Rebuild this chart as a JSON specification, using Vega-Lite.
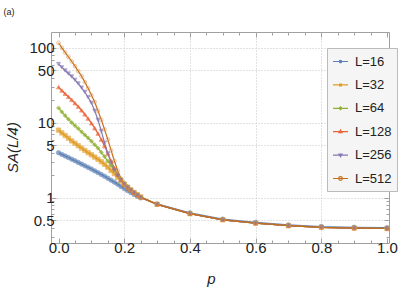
{
"$schema": "https://vega.github.io/schema/vega-lite/v6.json",
"width": 338, "height": 211,
"autosize": {"type": "none"},
"padding": {"left": 51, "top": 32, "right": 10, "bottom": 56},
"config": {
  "view": {"stroke": "#a0a0a0", "strokeWidth": 1},
  "font": "Liberation Sans",
  "axis": {"labelFont": "Liberation Sans", "titleFont": "Liberation Sans", "domain": false, "tickColor": "#a0a0a0", "labelColor": "#222222", "titleColor": "#222222", "labelFontSize": 15, "titleFontSize": 15, "titleFontWeight": "normal", "labelOverlap": false, "labelFlush": false}
},
"data": {"values": [
{"L":"L=16","p":0,"s":4.0},{"L":"L=16","p":0.01,"s":3.8},{"L":"L=16","p":0.02,"s":3.62},{"L":"L=16","p":0.03,"s":3.45},{"L":"L=16","p":0.04,"s":3.28},{"L":"L=16","p":0.05,"s":3.12},{"L":"L=16","p":0.06,"s":2.97},{"L":"L=16","p":0.07,"s":2.82},{"L":"L=16","p":0.08,"s":2.68},{"L":"L=16","p":0.09,"s":2.55},{"L":"L=16","p":0.1,"s":2.42},{"L":"L=16","p":0.11,"s":2.29},{"L":"L=16","p":0.12,"s":2.17},{"L":"L=16","p":0.13,"s":2.05},{"L":"L=16","p":0.14,"s":1.94},{"L":"L=16","p":0.15,"s":1.83},{"L":"L=16","p":0.16,"s":1.72},{"L":"L=16","p":0.17,"s":1.62},{"L":"L=16","p":0.18,"s":1.52},{"L":"L=16","p":0.19,"s":1.42},{"L":"L=16","p":0.2,"s":1.33},{"L":"L=16","p":0.21,"s":1.25},{"L":"L=16","p":0.22,"s":1.18},{"L":"L=16","p":0.23,"s":1.11},{"L":"L=16","p":0.24,"s":1.05},{"L":"L=16","p":0.25,"s":1.0},{"L":"L=16","p":0.3,"s":0.83},{"L":"L=16","p":0.4,"s":0.63},{"L":"L=16","p":0.5,"s":0.52},{"L":"L=16","p":0.6,"s":0.47},{"L":"L=16","p":0.7,"s":0.435},{"L":"L=16","p":0.8,"s":0.415},{"L":"L=16","p":0.9,"s":0.405},{"L":"L=16","p":1.0,"s":0.4},
{"L":"L=32","p":0,"s":8.0},{"L":"L=32","p":0.01,"s":7.35},{"L":"L=32","p":0.02,"s":6.8},{"L":"L=32","p":0.03,"s":6.25},{"L":"L=32","p":0.04,"s":5.75},{"L":"L=32","p":0.05,"s":5.35},{"L":"L=32","p":0.06,"s":4.95},{"L":"L=32","p":0.07,"s":4.6},{"L":"L=32","p":0.08,"s":4.3},{"L":"L=32","p":0.09,"s":4.0},{"L":"L=32","p":0.1,"s":3.75},{"L":"L=32","p":0.11,"s":3.5},{"L":"L=32","p":0.12,"s":3.27},{"L":"L=32","p":0.13,"s":3.03},{"L":"L=32","p":0.14,"s":2.8},{"L":"L=32","p":0.15,"s":2.56},{"L":"L=32","p":0.16,"s":2.32},{"L":"L=32","p":0.17,"s":2.1},{"L":"L=32","p":0.18,"s":1.88},{"L":"L=32","p":0.19,"s":1.68},{"L":"L=32","p":0.2,"s":1.52},{"L":"L=32","p":0.21,"s":1.39},{"L":"L=32","p":0.22,"s":1.28},{"L":"L=32","p":0.23,"s":1.18},{"L":"L=32","p":0.24,"s":1.1},{"L":"L=32","p":0.25,"s":1.03},{"L":"L=32","p":0.3,"s":0.82},{"L":"L=32","p":0.4,"s":0.615},{"L":"L=32","p":0.5,"s":0.51},{"L":"L=32","p":0.6,"s":0.46},{"L":"L=32","p":0.7,"s":0.425},{"L":"L=32","p":0.8,"s":0.405},{"L":"L=32","p":0.9,"s":0.395},{"L":"L=32","p":1.0,"s":0.39},
{"L":"L=64","p":0,"s":15.8},{"L":"L=64","p":0.01,"s":14.0},{"L":"L=64","p":0.02,"s":12.5},{"L":"L=64","p":0.03,"s":11.2},{"L":"L=64","p":0.04,"s":10.1},{"L":"L=64","p":0.05,"s":9.2},{"L":"L=64","p":0.06,"s":8.4},{"L":"L=64","p":0.07,"s":7.6},{"L":"L=64","p":0.08,"s":6.9},{"L":"L=64","p":0.09,"s":6.3},{"L":"L=64","p":0.1,"s":5.7},{"L":"L=64","p":0.11,"s":5.1},{"L":"L=64","p":0.12,"s":4.6},{"L":"L=64","p":0.13,"s":4.05},{"L":"L=64","p":0.14,"s":3.55},{"L":"L=64","p":0.15,"s":3.1},{"L":"L=64","p":0.16,"s":2.7},{"L":"L=64","p":0.17,"s":2.35},{"L":"L=64","p":0.18,"s":2.05},{"L":"L=64","p":0.19,"s":1.8},{"L":"L=64","p":0.2,"s":1.58},{"L":"L=64","p":0.21,"s":1.42},{"L":"L=64","p":0.22,"s":1.29},{"L":"L=64","p":0.23,"s":1.18},{"L":"L=64","p":0.24,"s":1.1},{"L":"L=64","p":0.25,"s":1.03},{"L":"L=64","p":0.3,"s":0.82},{"L":"L=64","p":0.4,"s":0.615},{"L":"L=64","p":0.5,"s":0.51},{"L":"L=64","p":0.6,"s":0.46},{"L":"L=64","p":0.7,"s":0.425},{"L":"L=64","p":0.8,"s":0.405},{"L":"L=64","p":0.9,"s":0.395},{"L":"L=64","p":1.0,"s":0.39},
{"L":"L=128","p":0,"s":30},{"L":"L=128","p":0.01,"s":27},{"L":"L=128","p":0.02,"s":24.5},{"L":"L=128","p":0.03,"s":22.3},{"L":"L=128","p":0.04,"s":20.3},{"L":"L=128","p":0.05,"s":18.3},{"L":"L=128","p":0.06,"s":16.5},{"L":"L=128","p":0.07,"s":14.7},{"L":"L=128","p":0.08,"s":13.0},{"L":"L=128","p":0.09,"s":11.4},{"L":"L=128","p":0.1,"s":9.9},{"L":"L=128","p":0.11,"s":8.5},{"L":"L=128","p":0.12,"s":7.2},{"L":"L=128","p":0.13,"s":6.0},{"L":"L=128","p":0.14,"s":4.9},{"L":"L=128","p":0.15,"s":3.9},{"L":"L=128","p":0.16,"s":3.1},{"L":"L=128","p":0.17,"s":2.5},{"L":"L=128","p":0.18,"s":2.05},{"L":"L=128","p":0.19,"s":1.75},{"L":"L=128","p":0.2,"s":1.52},{"L":"L=128","p":0.21,"s":1.38},{"L":"L=128","p":0.22,"s":1.27},{"L":"L=128","p":0.23,"s":1.17},{"L":"L=128","p":0.24,"s":1.09},{"L":"L=128","p":0.25,"s":1.02},{"L":"L=128","p":0.3,"s":0.82},{"L":"L=128","p":0.4,"s":0.615},{"L":"L=128","p":0.5,"s":0.51},{"L":"L=128","p":0.6,"s":0.46},{"L":"L=128","p":0.7,"s":0.425},{"L":"L=128","p":0.8,"s":0.405},{"L":"L=128","p":0.9,"s":0.395},{"L":"L=128","p":1.0,"s":0.39},
{"L":"L=256","p":0,"s":61},{"L":"L=256","p":0.01,"s":55},{"L":"L=256","p":0.02,"s":50},{"L":"L=256","p":0.03,"s":45.5},{"L":"L=256","p":0.04,"s":41.5},{"L":"L=256","p":0.05,"s":37.5},{"L":"L=256","p":0.06,"s":33.5},{"L":"L=256","p":0.07,"s":29.5},{"L":"L=256","p":0.08,"s":25.8},{"L":"L=256","p":0.09,"s":22},{"L":"L=256","p":0.1,"s":18.5},{"L":"L=256","p":0.11,"s":14.5},{"L":"L=256","p":0.12,"s":11.0},{"L":"L=256","p":0.13,"s":7.8},{"L":"L=256","p":0.14,"s":5.4},{"L":"L=256","p":0.15,"s":3.9},{"L":"L=256","p":0.16,"s":2.95},{"L":"L=256","p":0.17,"s":2.35},{"L":"L=256","p":0.18,"s":1.98},{"L":"L=256","p":0.19,"s":1.72},{"L":"L=256","p":0.2,"s":1.52},{"L":"L=256","p":0.21,"s":1.38},{"L":"L=256","p":0.22,"s":1.27},{"L":"L=256","p":0.23,"s":1.17},{"L":"L=256","p":0.24,"s":1.09},{"L":"L=256","p":0.25,"s":1.02},{"L":"L=256","p":0.3,"s":0.82},{"L":"L=256","p":0.4,"s":0.615},{"L":"L=256","p":0.5,"s":0.51},{"L":"L=256","p":0.6,"s":0.46},{"L":"L=256","p":0.7,"s":0.425},{"L":"L=256","p":0.8,"s":0.405},{"L":"L=256","p":0.9,"s":0.395},{"L":"L=256","p":1.0,"s":0.39},
{"L":"L=512","p":0,"s":117},{"L":"L=512","p":0.01,"s":100},{"L":"L=512","p":0.02,"s":87},{"L":"L=512","p":0.03,"s":76},{"L":"L=512","p":0.04,"s":66},{"L":"L=512","p":0.05,"s":57},{"L":"L=512","p":0.06,"s":49},{"L":"L=512","p":0.07,"s":42},{"L":"L=512","p":0.08,"s":35},{"L":"L=512","p":0.09,"s":29},{"L":"L=512","p":0.1,"s":23.5},{"L":"L=512","p":0.11,"s":19},{"L":"L=512","p":0.12,"s":14.5},{"L":"L=512","p":0.13,"s":11},{"L":"L=512","p":0.14,"s":8.2},{"L":"L=512","p":0.15,"s":6.0},{"L":"L=512","p":0.16,"s":4.3},{"L":"L=512","p":0.17,"s":3.1},{"L":"L=512","p":0.18,"s":2.3},{"L":"L=512","p":0.19,"s":1.8},{"L":"L=512","p":0.2,"s":1.55},{"L":"L=512","p":0.21,"s":1.4},{"L":"L=512","p":0.22,"s":1.28},{"L":"L=512","p":0.23,"s":1.18},{"L":"L=512","p":0.24,"s":1.1},{"L":"L=512","p":0.25,"s":1.02},{"L":"L=512","p":0.3,"s":0.82},{"L":"L=512","p":0.4,"s":0.615},{"L":"L=512","p":0.5,"s":0.51},{"L":"L=512","p":0.6,"s":0.46},{"L":"L=512","p":0.7,"s":0.425},{"L":"L=512","p":0.8,"s":0.405},{"L":"L=512","p":0.9,"s":0.395},{"L":"L=512","p":1.0,"s":0.39}
]},
"layer": [
  {
    "mark": {"type": "line", "strokeWidth": 1.2},
    "encoding": {
      "x": {"field": "p", "type": "quantitative",
        "scale": {"domain": [-0.023, 1.006], "nice": false, "zero": false},
        "axis": {"orient": "bottom",
          "values": [0,0.05,0.1,0.15,0.2,0.25,0.3,0.35,0.4,0.45,0.5,0.55,0.6,0.65,0.7,0.75,0.8,0.85,0.9,0.95,1],
          "labelExpr": "abs(datum.value*5 - round(datum.value*5)) < 0.001 ? format(datum.value, '.1f') : ''",
          "tickSize": {"condition": {"test": "abs(datum.value*5 - round(datum.value*5)) < 0.001", "value": -5}, "value": -3},
          "labelPadding": 2,
          "grid": true, "gridDash": [1, 2], "gridColor": "#c4c4c4",
          "gridOpacity": {"condition": {"test": "datum.value > 0.1 && datum.value < 0.9 && abs(datum.value*5 - round(datum.value*5)) < 0.001", "value": 1}, "value": 0},
          "title": "p", "titleFontStyle": "italic", "titleX": 160, "titleY": 40, "titleBaseline": "alphabetic", "titleAlign": "center"}},
      "y": {"field": "s", "type": "quantitative",
        "scale": {"type": "log", "domain": [0.25, 163], "nice": false},
        "axis": {"orient": "left",
          "values": [0.3,0.4,0.5,0.6,0.7,0.8,0.9,1,2,3,4,5,6,7,8,9,10,20,30,40,50,60,70,80,90,100],
          "labelExpr": "indexof([0.5,1,5,10,50,100], datum.value) >= 0 ? (datum.value < 1 ? format(datum.value, '.1f') : format(datum.value, 'd')) : ''",
          "tickSize": {"condition": {"test": "indexof([0.5,1,5,10,50,100], datum.value) >= 0", "value": -5}, "value": -3},
          "labelPadding": 2,
          "grid": true, "gridDash": [1, 2], "gridColor": "#c4c4c4",
          "gridOpacity": {"condition": {"test": "indexof([0.5,1,5,10,50,100], datum.value) >= 0", "value": 1}, "value": 0},
          "title": "SA(L/4)", "titleFontStyle": "italic", "titleAngle": 270, "titleX": -39, "titleY": 115, "titleAlign": "center", "titleBaseline": "middle"}},
      "color": {"field": "L", "type": "nominal",
        "scale": {"domain": ["L=16","L=32","L=64","L=128","L=256","L=512"], "range": ["#5E81B5","#E19C24","#8FB032","#EB6235","#8778B3","#C56E1A"]},
        "legend": {"orient": "none", "legendX": 276, "legendY": 16, "title": null, "symbolType": "stroke", "symbolSize": 225, "symbolStrokeWidth": 1.3, "labelFontSize": 13, "labelFont": "Liberation Sans", "labelColor": "#222222", "rowPadding": 7.4, "padding": 5, "labelOffset": 6, "fillColor": "#f5f5f5", "strokeColor": "#bbbbbb",
          "encode": {"symbols": {"update": {
            "shape": {"signal": "datum.value === 'L=16' ? 'M-1,0H1M-0.15,0A0.15,0.15,0,1,0,0.15,0A0.15,0.15,0,1,0,-0.15,0Z' : datum.value === 'L=32' ? 'M-1,0H1M-0.12,-0.12H0.12V0.12H-0.12Z' : datum.value === 'L=64' ? 'M-1,0H1M0,-0.19L0.19,0L0,0.19L-0.19,0Z' : datum.value === 'L=128' ? 'M-1,0H1M0,-0.21L0.19,0.14L-0.19,0.14Z' : datum.value === 'L=256' ? 'M-1,0H1M0,0.21L0.19,-0.14L-0.19,-0.14Z' : 'M-1,0H1M-0.24,0A0.24,0.24,0,1,0,0.24,0A0.24,0.24,0,1,0,-0.24,0Z'"},
            "size": {"value": 225}, "strokeWidth": {"value": 1.2},
            "stroke": {"scale": "color", "field": "value"},
            "fill": {"signal": "datum.value === 'L=512' ? '#f5f5f5' : scale('color', datum.value)"},
            "opacity": {"value": 1}}}}}}
    }
  },
  {
    "mark": {"type": "point", "filled": true, "strokeWidth": 0.8},
    "encoding": {
      "x": {"field": "p", "type": "quantitative",
        "axis": {"orient": "top",
          "values": [0,0.05,0.1,0.15,0.2,0.25,0.3,0.35,0.4,0.45,0.5,0.55,0.6,0.65,0.7,0.75,0.8,0.85,0.9,0.95,1],
          "labels": false, "grid": false,
          "tickSize": {"condition": {"test": "abs(datum.value*5 - round(datum.value*5)) < 0.001", "value": -5}, "value": -3},
          "title": "(a)", "titleFontSize": 9, "titleX": -48, "titleY": -18, "titleAlign": "left", "titleBaseline": "alphabetic", "titleColor": "#222222"}},
      "y": {"field": "s", "type": "quantitative",
        "axis": {"orient": "right",
          "values": [0.3,0.4,0.5,0.6,0.7,0.8,0.9,1,2,3,4,5,6,7,8,9,10,20,30,40,50,60,70,80,90,100],
          "labels": false, "grid": false, "title": null,
          "tickSize": {"condition": {"test": "indexof([0.5,1,5,10,50,100], datum.value) >= 0", "value": -5}, "value": -3}}},
      "fill": {"field": "L", "type": "nominal", "legend": null, "sort": ["L=16","L=32","L=64","L=128","L=256","L=512"],
        "scale": {"range": ["#5E81B5","#E19C24","#8FB032","#EB6235","#8778B3","transparent"]}},
      "stroke": {"field": "L", "type": "nominal", "legend": null, "sort": ["L=16","L=32","L=64","L=128","L=256","L=512"],
        "scale": {"range": ["#5E81B5","#E19C24","#8FB032","#EB6235","#8778B3","#D9924F"]}},
      "shape": {"field": "L", "type": "nominal", "legend": null, "sort": ["L=16","L=32","L=64","L=128","L=256","L=512"],
        "scale": {"range": ["circle","square","diamond","triangle-up","triangle-down","circle"]}},
      "size": {"field": "L", "type": "nominal", "legend": null, "sort": ["L=16","L=32","L=64","L=128","L=256","L=512"],
        "scale": {"range": [20,14,18,22,22,42]}}
    }
  }
],
"resolve": {"axis": {"x": "independent", "y": "independent"}}
}
